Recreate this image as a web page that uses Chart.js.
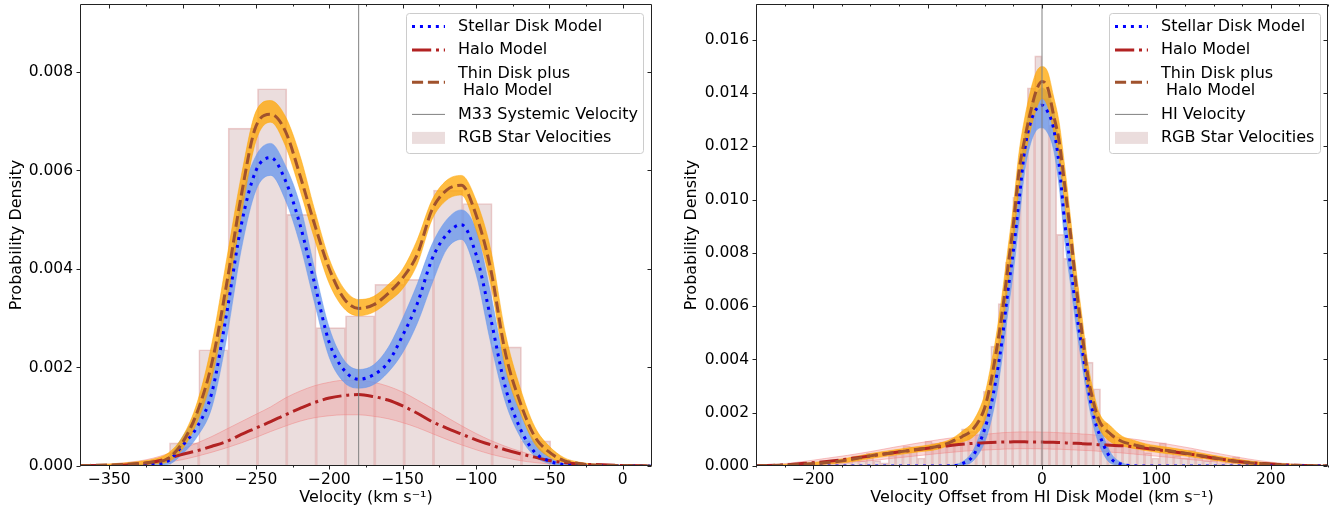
<!DOCTYPE html>
<html>
<head>
<meta charset="utf-8">
<script src="https://cdn.jsdelivr.net/npm/chart.js@4.4.1/dist/chart.umd.min.js"></script>
<style>
  html, body { margin: 0; padding: 0; background: #fff; }
  #wrap { position: relative; width: 1334px; height: 512px; }
  .panel { position: absolute; top: 0; width: 667px; height: 512px; }
</style>
</head>
<body>
<div id="wrap">
  <div class="panel" style="left:0"><canvas id="leftChart" width="667" height="512"></canvas></div>
  <div class="panel" style="left:667px"><canvas id="rightChart" width="667" height="512"></canvas></div>
</div>
<script>
// ---- left panel: heliocentric velocities ----
const leftBinCenters = [-299, -279, -259, -239, -219, -199, -179, -159, -139, -119, -99, -79, -59];
const leftBinDensity = [0.00047, 0.00236, 0.00686, 0.00766, 0.00511, 0.00281, 0.00305, 0.00369, 0.00379, 0.0056, 0.00533, 0.00242, 0.00051];

const leftVel = [-370, -350, -330, -320, -310, -300, -290, -280, -270, -260, -250, -240, -230, -220, -210, -200, -190, -180,
  -170, -160, -150, -140, -130, -120, -110, -100, -90, -80, -70, -60, -50, -40, -30, -20, 0, 20];
const leftDisk = [0, 0, 0.00001, 0.00003, 0.0001, 0.00042, 0.0008, 0.0015, 0.0031, 0.0049, 0.0060, 0.00626, 0.0058, 0.0049, 0.0037, 0.0025, 0.00195, 0.00176,
  0.00185, 0.0021, 0.00265, 0.0033, 0.0042, 0.0047, 0.0049, 0.0043, 0.0030, 0.0016, 0.00077, 0.00028, 0.0001, 0.00003, 0.00001, 0, 0, 0];
const leftDiskHi = [0, 0, 0.00003, 0.00007, 0.00018, 0.0006, 0.0011, 0.0019, 0.0036, 0.0054, 0.0063, 0.00655, 0.0061, 0.0053, 0.0040, 0.0028, 0.00215, 0.00196,
  0.00205, 0.0024, 0.0030, 0.0037, 0.0045, 0.0050, 0.0052, 0.0048, 0.0035, 0.0020, 0.0011, 0.0005, 0.00018, 0.00005, 0.00001, 0, 0, 0];
const leftDiskLo = [0, 0, 0, 0.00001, 0.00003, 0.00025, 0.0006, 0.0012, 0.0026, 0.0044, 0.0056, 0.0059, 0.0054, 0.0045, 0.0033, 0.0022, 0.0017, 0.00158,
  0.00165, 0.0019, 0.0023, 0.0029, 0.0037, 0.0044, 0.0046, 0.0039, 0.0025, 0.0013, 0.0006, 0.0002, 0.00005, 0.00001, 0, 0, 0, 0];
const leftThin = [0.00001, 0.00002, 0.00005, 0.00008, 0.00015, 0.00048, 0.0011, 0.0021, 0.0037, 0.0055, 0.0069, 0.00714, 0.0068, 0.0059, 0.0049, 0.0040, 0.0034, 0.0032,
  0.00327, 0.0035, 0.00382, 0.0043, 0.0052, 0.0056, 0.0057, 0.0051, 0.0040, 0.0023, 0.0013, 0.0006, 0.00028, 0.00011, 0.00005, 0.00002, 0.00001, 0];
const leftThinHi = [0.00002, 0.00004, 0.00009, 0.00014, 0.00026, 0.0006, 0.0013, 0.0025, 0.0042, 0.0059, 0.0072, 0.00742, 0.0071, 0.0063, 0.0052, 0.0042, 0.0036, 0.00338,
  0.00344, 0.00368, 0.0040, 0.0046, 0.0054, 0.0058, 0.0059, 0.0054, 0.0044, 0.0027, 0.0016, 0.0008, 0.0004, 0.00017, 0.00008, 0.00004, 0.00002, 0.00001];
const leftThinLo = [0, 0.00001, 0.00002, 0.00004, 0.00008, 0.00035, 0.0009, 0.0018, 0.0033, 0.0051, 0.0066, 0.00698, 0.0065, 0.0056, 0.0046, 0.0037, 0.0032, 0.00305,
  0.00312, 0.00333, 0.0036, 0.0041, 0.0050, 0.0054, 0.0055, 0.0048, 0.0037, 0.0020, 0.0011, 0.00045, 0.00018, 0.00007, 0.00002, 0.00001, 0, 0];
const leftHalo = [0.00001, 0.00001, 0.00004, 0.00008, 0.00015, 0.00024, 0.00031, 0.0004, 0.0005, 0.00064, 0.00077, 0.0009, 0.00104, 0.00117, 0.00129, 0.00138, 0.00143, 0.00145,
  0.00141, 0.00134, 0.00122, 0.00107, 0.0009, 0.00077, 0.00065, 0.00053, 0.00043, 0.00033, 0.00025, 0.00018, 0.00011, 0.00007, 0.00004, 0.00003, 0.00001, 0];
const leftHaloHi = [0.00002, 0.00004, 0.0001, 0.00016, 0.00025, 0.00035, 0.00047, 0.0006, 0.00075, 0.0009, 0.00105, 0.0012, 0.00138, 0.00152, 0.00163, 0.0017, 0.00174, 0.00174,
  0.0017, 0.00162, 0.0015, 0.00134, 0.00117, 0.00099, 0.00082, 0.00066, 0.00052, 0.0004, 0.0003, 0.00021, 0.00014, 0.00009, 0.00006, 0.00004, 0.00002, 0.00001];
const leftHaloLo = [0, 0, 0.00001, 0.00004, 0.00008, 0.00013, 0.0002, 0.00028, 0.00037, 0.00047, 0.00058, 0.0007, 0.00081, 0.00091, 0.00098, 0.00102, 0.00104, 0.00104,
  0.00101, 0.00096, 0.00088, 0.00078, 0.00066, 0.00054, 0.00043, 0.00033, 0.00024, 0.00017, 0.00011, 0.00007, 0.00004, 0.00002, 0.00001, 0, 0, 0];
const m33Systemic = -180;
const leftXTicks = [-350, -300, -250, -200, -150, -100, -50, 0];
const leftYTicks = [0, 0.002, 0.004, 0.006, 0.008];

// ---- right panel: offsets from the HI disk model ----
const rightBinCenters = [-227.2, -220.8, -214.4, -208, -201.6, -195.2, -188.8, -182.4, -176, -169.6, -163.2, -156.8, -150.4, -144, -137.6, -131.2, -124.8, -118.4,
  -112, -105.6, -99.2, -92.8, -86.4, -80, -73.6, -67.2, -60.8, -54.4, -48, -41.6, -35.2, -28.8, -22.4, -16, -9.6, -3.2,
  3.2, 9.6, 16, 22.4, 28.8, 35.2, 41.6, 48, 54.4, 60.8, 67.2, 73.6, 80, 86.4, 92.8, 99.2, 105.6, 112,
  118.4, 124.8, 131.2, 137.6, 144, 150.4, 156.8, 163.2, 169.6, 176, 182.4, 188.8, 195.2, 201.6, 208, 214.4, 220.8, 227.2];
const rightBinDensity = [0.00005, 0, 0.00005, 0, 0, 0.00006, 0.00019, 0.0001, 0.0001, 0.00013, 0.00038, 0.0002, 0.00048, 0.0002, 0.00012, 0.0004, 0.00055, 0.00075,
  0.00072, 0.0003, 0.00094, 0.00085, 0.0009, 0.00088, 0.001, 0.0014, 0.0013, 0.0017, 0.0028, 0.0045, 0.0061, 0.00766, 0.0101, 0.012, 0.0142, 0.0154,
  0.0138, 0.0128, 0.0087, 0.0078, 0.0067, 0.0048, 0.0039, 0.0029, 0.0016, 0.0011, 0.0008, 0.0009, 0.0007, 0.00085, 0.0005, 0.0003, 0.00087, 0.0005,
  0.0004, 0.0003, 0.0006, 0.0003, 0.0002, 0.00025, 0.0001, 0.0002, 0.00034, 0.0001, 0.0001, 0.00005, 0.00005, 0, 0.00003, 0.00005, 0.00003, 0];

const rightVel = [-250, -230, -210, -190, -170, -150, -130, -110, -90, -80, -70, -60, -50, -45, -40, -35, -30, -25, -20, -15, -10, -5,
  0, 5, 10, 15, 20, 25, 30, 35, 40, 45, 50, 60, 70, 80, 90, 110, 130, 150, 170, 190, 210, 230, 250];
const rightDisk = [0, 0, 0, 0, 0, 0, 0, 0, 0, 0.00001, 0.00008, 0.0004, 0.0014, 0.0022, 0.0033, 0.0047, 0.0065, 0.0081, 0.0100, 0.0119, 0.0129, 0.0134,
  0.01355, 0.0133, 0.0127, 0.0113, 0.0091, 0.0075, 0.0058, 0.0044, 0.0030, 0.0019, 0.0012, 0.0003, 0.00006, 0.00001, 0, 0, 0, 0, 0, 0, 0, 0, 0];
const rightDiskHi = [0, 0, 0, 0, 0, 0, 0, 0, 0, 0.00003, 0.00015, 0.0006, 0.0018, 0.0027, 0.0039, 0.0054, 0.0072, 0.0088, 0.0107, 0.0125, 0.0135, 0.0140,
  0.0142, 0.0140, 0.0134, 0.0120, 0.0098, 0.0082, 0.0064, 0.0049, 0.0035, 0.0024, 0.0016, 0.0005, 0.00012, 0.00002, 0, 0, 0, 0, 0, 0, 0, 0, 0];
const rightDiskLo = [0, 0, 0, 0, 0, 0, 0, 0, 0, 0, 0.00003, 0.0002, 0.0009, 0.0016, 0.0026, 0.0040, 0.0057, 0.0073, 0.0092, 0.0111, 0.0121, 0.0126,
  0.0127, 0.0125, 0.0119, 0.0105, 0.0084, 0.0068, 0.0052, 0.0038, 0.0025, 0.0015, 0.0008, 0.0001, 0.00001, 0, 0, 0, 0, 0, 0, 0, 0, 0, 0];
const rightThin = [0.00001, 0.00003, 0.00006, 0.00012, 0.00022, 0.00038, 0.0005, 0.00062, 0.00075, 0.0009, 0.0011, 0.0014, 0.0022, 0.0031, 0.0043, 0.0057, 0.0074, 0.0091, 0.0111, 0.0123, 0.0133, 0.0141,
  0.01444, 0.0142, 0.0132, 0.0122, 0.0105, 0.0087, 0.0067, 0.0050, 0.0034, 0.0024, 0.0017, 0.0012, 0.00092, 0.0008, 0.0007, 0.00058, 0.00045, 0.00031, 0.00017, 0.00009, 0.00004, 0.00002, 0.00001];
const rightThinHi = [0.00002, 0.00005, 0.0001, 0.00018, 0.0003, 0.00047, 0.0006, 0.00072, 0.00086, 0.001, 0.0013, 0.0017, 0.0027, 0.0037, 0.0049, 0.0064, 0.0081, 0.0098, 0.0118, 0.0131, 0.0141, 0.0148,
  0.0150, 0.0148, 0.0139, 0.0129, 0.0112, 0.0093, 0.0073, 0.0056, 0.0039, 0.0028, 0.0020, 0.0015, 0.00112, 0.00097, 0.00084, 0.0007, 0.00056, 0.0004, 0.00026, 0.00015, 0.00008, 0.00004, 0.00002];
const rightThinLo = [0, 0.00001, 0.00003, 0.00007, 0.00014, 0.00028, 0.0004, 0.00052, 0.00064, 0.0008, 0.0009, 0.0011, 0.0017, 0.0025, 0.0037, 0.0050, 0.0067, 0.0084, 0.0104, 0.0116, 0.0126, 0.0134,
  0.0138, 0.0135, 0.0126, 0.0115, 0.0098, 0.0080, 0.0061, 0.0044, 0.0029, 0.0020, 0.0014, 0.0009, 0.00075, 0.00066, 0.00058, 0.00046, 0.00035, 0.00022, 0.0001, 0.00004, 0.00001, 0, 0];
const rightHalo = [0.00001, 0.00003, 0.00009, 0.00016, 0.00026, 0.00038, 0.0005, 0.00061, 0.00072, 0.00077, 0.00082, 0.00085, 0.00087, 0.00088, 0.00089, 0.0009, 0.0009, 0.00091, 0.00091, 0.00091, 0.0009, 0.0009,
  0.0009, 0.00089, 0.00089, 0.00088, 0.00087, 0.00086, 0.00085, 0.00084, 0.00083, 0.00082, 0.0008, 0.00078, 0.00076, 0.00072, 0.00067, 0.00056, 0.00044, 0.0003, 0.00018, 0.0001, 0.00005, 0.00002, 0.00001];
const rightHaloHi = [0.00003, 0.00007, 0.00016, 0.00028, 0.0004, 0.00054, 0.0007, 0.00085, 0.00099, 0.00105, 0.0011, 0.00115, 0.00119, 0.00121, 0.00123, 0.00125, 0.00126, 0.00127, 0.00128, 0.00128, 0.00128, 0.00128,
  0.00127, 0.00127, 0.00126, 0.00125, 0.00124, 0.00123, 0.00122, 0.0012, 0.00119, 0.00117, 0.00115, 0.00111, 0.00106, 0.00101, 0.00095, 0.00082, 0.00067, 0.0005, 0.00034, 0.0002, 0.0001, 0.00005, 0.00002];
const rightHaloLo = [0, 0, 0.00003, 0.00007, 0.00013, 0.0002, 0.00029, 0.00038, 0.00047, 0.00051, 0.00055, 0.00058, 0.0006, 0.00061, 0.00062, 0.00063, 0.00064, 0.00064, 0.00065, 0.00065, 0.00065, 0.00065,
  0.00064, 0.00064, 0.00063, 0.00063, 0.00062, 0.00061, 0.0006, 0.00059, 0.00058, 0.00057, 0.00055, 0.00052, 0.00049, 0.00045, 0.00041, 0.00033, 0.00024, 0.00016, 0.00009, 0.00004, 0.00001, 0, 0];
const hiVelocity = 0;
const rightXTicks = [-200, -100, 0, 100, 200];
const rightYTicks = [0, 0.002, 0.004, 0.006, 0.008, 0.010, 0.012, 0.014, 0.016];

const DISK_STYLE = { borderColor: '#0000ff', borderWidth: 3, borderDash: [3, 4.95] };
const HALO_STYLE = { borderColor: '#b22222', borderWidth: 3, borderDash: [19.2, 4.8, 3, 4.8] };
const THIN_STYLE = { borderColor: '#a0522d', borderWidth: 3, borderDash: [11.1, 4.8] };
const VLINE_STYLE = { borderColor: '#808080', borderWidth: 1, borderDash: [] };
const HIST_FILL = 'rgba(188,143,143,0.3)';

Chart.defaults.font.family = "'DejaVu Sans', sans-serif";
Chart.defaults.font.size = 15.5;
Chart.defaults.color = '#000';

function pts(xs, ys) {
    return xs.map((x, i) => ({ x, y: ys[i] }));
}

function curve(xs, ys, style) {
    return Object.assign({
        type: 'line',
        data: pts(xs, ys),
        pointRadius: 0,
        borderCapStyle: 'butt',
        cubicInterpolationMode: 'monotone',
        fill: false
    }, style);
}

// lower edge + upper edge filled down to it
function band(xs, lo, hi, fillColor, edgeColor, order) {
    return [
        curve(xs, lo, { borderColor: edgeColor, borderWidth: 0.8, order }),
        curve(xs, hi, { borderColor: edgeColor, borderWidth: 0.8, order, fill: '-1', backgroundColor: fillColor })
    ];
}

function histogram(centers, dens) {
    return {
        type: 'bar',
        data: pts(centers, dens),
        backgroundColor: HIST_FILL,
        borderColor: 'rgba(178,34,34,0.22)',
        borderWidth: 1,
        barPercentage: 1,
        categoryPercentage: 1,
        order: 20
    };
}

const minus = v => String(v).replace('-', '\u2212');

// spines + matplotlib-like tick marks (out on left/bottom, in on top/right)
const frameTicks = {
    id: 'frameTicks',
    afterDatasetsDraw(chart, args, opts) {
        const { ctx, chartArea: a } = chart;
        const xs = chart.scales.x, ys = chart.scales.y;
        const L = Math.round(a.left) + 0.5, R = Math.round(a.right) - 0.5;
        const T = Math.round(a.top) + 0.5, B = Math.round(a.bottom) - 0.5;
        ctx.save();
        ctx.strokeStyle = '#222';
        ctx.lineWidth = 1;
        ctx.beginPath();
        ctx.rect(L, T, R - L, B - T);
        const seg = (x0, y0, x1, y1) => { ctx.moveTo(x0, y0); ctx.lineTo(x1, y1); };
        opts.xMajor.forEach(v => {
            const p = Math.round(xs.getPixelForValue(v)) + 0.5;
            seg(p, B, p, B + 4); seg(p, T, p, T + 4);
        });
        opts.xMinor.forEach(v => {
            const p = Math.round(xs.getPixelForValue(v)) + 0.5;
            seg(p, B, p, B + 2); seg(p, T, p, T + 2);
        });
        opts.yMajor.forEach(v => {
            const p = Math.round(ys.getPixelForValue(v)) + 0.5;
            seg(L, p, L - 4, p); seg(R, p, R - 4, p);
        });
        ctx.stroke();
        ctx.restore();
    }
};

const legendBox = {
    id: 'legendBox',
    afterDraw(chart, args, o) {
        const ctx = chart.ctx;
        ctx.save();
        ctx.fillStyle = 'rgba(255,255,255,0.8)';
        ctx.strokeStyle = '#cccccc';
        ctx.lineWidth = 1;
        ctx.beginPath();
        ctx.roundRect(o.left + 0.5, o.top + 0.5, o.right - o.left, o.bottom - o.top, 3);
        ctx.fill();
        ctx.stroke();
        ctx.font = "16px 'DejaVu Sans', sans-serif";
        ctx.textBaseline = 'middle';
        let yy = o.top + 13.5;
        o.items.forEach(it => {
            const n = it.text.length;
            const mid = yy + (n - 1) * 17.4 / 2;
            if (it.patch) {
                ctx.fillStyle = it.patch;
                ctx.fillRect(o.handleX, mid - 6, 33, 12);
            } else {
                ctx.strokeStyle = it.style.borderColor;
                ctx.lineWidth = it.style.borderWidth;
                ctx.setLineDash(it.style.borderDash);
                ctx.beginPath();
                ctx.moveTo(o.handleX, mid);
                ctx.lineTo(o.handleX + 33, mid);
                ctx.stroke();
                ctx.setLineDash([]);
            }
            ctx.fillStyle = '#000';
            it.text.forEach((t, k) => ctx.fillText(t, o.textX, yy + k * 17.4));
            yy += (n - 1) * 17.4 + 23.5;
        });
        ctx.restore();
    }
};

function minorTicks(lo, hi, step) {
    const out = [];
    for (let v = Math.ceil(lo / step) * step; v <= hi; v += step) out.push(v);
    return out;
}

function makePanel(canvasId, cfg) {
    return new Chart(document.getElementById(canvasId), {
        type: 'line',
        data: { datasets: cfg.datasets },
        options: {
            responsive: false,
            animation: false,
            devicePixelRatio: 1,
            layout: { padding: cfg.padding },
            plugins: {
                legend: { display: false },
                tooltip: { enabled: false },
                frameTicks: { xMajor: cfg.xTicks, xMinor: minorTicks(cfg.xMin, cfg.xMax, 25), yMajor: cfg.yTicks },
                legendBox: cfg.legend
            },
            scales: {
                x: {
                    type: 'linear',
                    min: cfg.xMin,
                    max: cfg.xMax,
                    offset: false,
                    grid: { display: false, drawTicks: false, offset: false },
                    border: { display: false },
                    afterBuildTicks: s => { s.ticks = cfg.xTicks.map(v => ({ value: v })); },
                    afterFit: s => { s.height = 46; s.paddingLeft = 0; s.paddingRight = 0; },
                    ticks: { padding: 5, autoSkip: false, maxRotation: 0, callback: v => minus(v) },
                    title: { display: true, text: cfg.xTitle, font: { size: 16 }, padding: { top: 0, bottom: 5 } }
                },
                y: {
                    type: 'linear',
                    min: 0,
                    max: cfg.yMax,
                    grid: { display: false, drawTicks: false },
                    border: { display: false },
                    afterBuildTicks: s => { s.ticks = cfg.yTicks.map(v => ({ value: v })); },
                    afterFit: s => { s.width = cfg.yWidth; s.paddingTop = 0; s.paddingBottom = 0; },
                    ticks: { padding: 7, autoSkip: false, callback: v => v.toFixed(3) },
                    title: { display: true, text: 'Probability Density', font: { size: 16 }, padding: { top: cfg.yTitlePad, bottom: 0 } }
                }
            }
        },
        plugins: [frameTicks, legendBox]
    });
}

function legendItems(lineLabel) {
    return [
        { text: ['Stellar Disk Model'], style: DISK_STYLE },
        { text: ['Halo Model'], style: HALO_STYLE },
        { text: ['Thin Disk plus', ' Halo Model'], style: THIN_STYLE },
        { text: [lineLabel], style: VLINE_STYLE },
        { text: ['RGB Star Velocities'], patch: HIST_FILL }
    ];
}

makePanel('leftChart', {
    xMin: -370, xMax: 20, yMax: 0.00938,
    xTicks: leftXTicks, yTicks: leftYTicks,
    yWidth: 80, yTitlePad: 7.4,
    padding: { left: 0, right: 15, top: 4, bottom: 0 },
    xTitle: 'Velocity (km s\u207B\u00B9)',
    legend: { left: 406, top: 13, right: 643, bottom: 153, handleX: 412, textX: 458, items: legendItems('M33 Systemic Velocity') },
    datasets: [
        histogram(leftBinCenters, leftBinDensity),
        ...band(leftVel, leftHaloLo, leftHaloHi, 'rgba(240,128,128,0.3)', 'rgba(240,128,128,0.6)', 15),
        ...band(leftVel, leftDiskLo, leftDiskHi, 'rgba(100,149,237,0.75)', 'rgba(100,149,237,0.6)', 13),
        ...band(leftVel, leftThinLo, leftThinHi, 'rgba(255,165,0,0.75)', 'rgba(255,165,0,0.6)', 12),
        curve(leftVel, leftHalo, Object.assign({ order: 5 }, HALO_STYLE)),
        curve(leftVel, leftDisk, Object.assign({ order: 4 }, DISK_STYLE)),
        curve(leftVel, leftThin, Object.assign({ order: 3 }, THIN_STYLE)),
        curve([m33Systemic, m33Systemic], [0, 0.00938], Object.assign({ order: 1, cubicInterpolationMode: 'default' }, VLINE_STYLE))
    ]
});

makePanel('rightChart', {
    xMin: -250, xMax: 250, yMax: 0.01735,
    xTicks: rightXTicks, yTicks: rightYTicks,
    yWidth: 89, yTitlePad: 15,
    padding: { left: 0, right: 6, top: 4, bottom: 0 },
    xTitle: 'Velocity Offset from HI Disk Model (km s\u207B\u00B9)',
    legend: { left: 442, top: 13, right: 653, bottom: 153, handleX: 448, textX: 494, items: legendItems('HI Velocity') },
    datasets: [
        histogram(rightBinCenters, rightBinDensity),
        ...band(rightVel, rightHaloLo, rightHaloHi, 'rgba(240,128,128,0.3)', 'rgba(240,128,128,0.6)', 15),
        ...band(rightVel, rightDiskLo, rightDiskHi, 'rgba(100,149,237,0.75)', 'rgba(100,149,237,0.6)', 13),
        ...band(rightVel, rightThinLo, rightThinHi, 'rgba(255,165,0,0.75)', 'rgba(255,165,0,0.6)', 12),
        curve(rightVel, rightHalo, Object.assign({ order: 5 }, HALO_STYLE)),
        curve(rightVel, rightDisk, Object.assign({ order: 4 }, DISK_STYLE)),
        curve(rightVel, rightThin, Object.assign({ order: 3 }, THIN_STYLE)),
        curve([hiVelocity, hiVelocity], [0, 0.01735], Object.assign({ order: 1, cubicInterpolationMode: 'default' }, VLINE_STYLE))
    ]
});
</script>
</body>
</html>
